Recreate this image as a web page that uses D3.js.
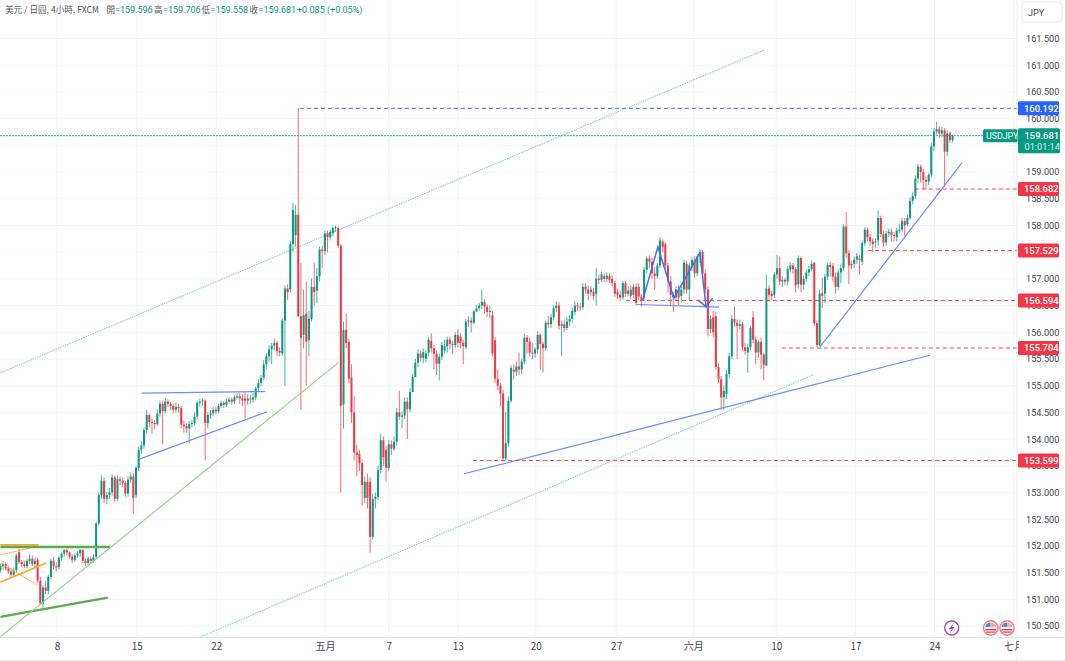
<!DOCTYPE html>
<meta charset="utf-8">
<style>
  body { margin: 0; background: #fff; }
  svg text { font-family: "Noto Sans CJK TC", Roboto, "Liberation Sans", sans-serif; }
</style>
<script src="https://d3js.org/d3.v7.min.js"></script>
<div id="divsvg"></div>
<script>

// candles, 10 per line, one line = about 27px of the picture
var opens = [
151.55,151.62,151.66,151.58,151.52,151.46,151.55,151.88,151.70,151.66,
151.62,151.72,151.76,151.66,151.74,151.35,150.92,151.22,151.16,151.42,
151.72,151.62,151.60,151.78,151.85,151.92,151.88,151.80,151.74,151.82,
151.86,151.92,151.72,151.68,151.76,151.72,151.80,152.42,152.95,153.22,
152.88,152.95,153.00,153.28,152.88,153.25,153.22,153.18,152.98,153.24,
153.30,152.95,153.46,153.80,153.88,154.17,154.45,154.32,154.30,154.28,
154.48,154.66,154.52,154.70,154.66,154.62,154.55,154.60,154.58,154.27,
154.24,154.20,154.28,154.30,154.42,154.68,154.70,154.72,154.30,154.45,
154.48,154.55,154.52,154.62,154.68,154.64,154.70,154.74,154.70,154.78,
154.80,154.76,154.76,154.72,154.76,154.74,154.78,154.95,155.05,155.15,
155.40,155.55,155.68,155.75,155.80,155.65,155.60,156.22,156.82,156.80,
157.65,157.82,158.20,156.30,155.95,156.35,155.85,156.25,156.85,156.78,
157.05,157.55,157.52,157.85,157.78,157.85,157.95,157.95,157.62,154.65,
156.05,155.82,155.15,154.50,153.75,153.72,153.55,152.90,153.20,153.20,
152.17,152.88,152.92,153.42,153.98,153.80,153.46,153.90,153.82,153.95,
154.50,154.42,154.44,154.70,154.56,154.88,155.16,155.43,155.60,155.52,
155.50,155.62,155.84,155.70,155.60,155.41,155.54,155.66,155.74,155.86,
155.78,155.76,155.95,155.92,155.80,155.72,156.20,156.22,156.18,156.39,
156.45,156.50,156.57,156.48,156.38,156.32,155.85,155.13,155.00,154.85,
153.64,153.92,154.72,155.30,155.26,155.36,155.30,155.45,155.90,155.82,
155.62,155.60,155.68,155.95,155.78,155.70,156.18,156.15,156.28,156.45,
156.50,156.12,156.15,156.08,156.20,156.25,156.38,156.50,156.48,156.47,
156.85,156.80,156.75,156.76,156.72,157.00,156.98,157.05,157.00,157.05,
157.00,156.92,156.75,156.70,156.65,156.92,156.72,156.80,156.70,156.85,
156.85,156.67,156.65,157.17,157.38,157.32,157.10,157.05,157.25,157.70,
157.65,157.25,156.95,156.70,156.65,156.80,156.68,156.80,157.28,156.80,
157.25,157.35,157.10,157.42,157.50,157.10,156.80,156.06,156.28,156.30,
155.35,155.12,154.78,154.85,155.22,155.55,156.25,156.18,156.12,156.15,
155.72,155.62,155.72,156.28,155.86,155.62,155.82,155.58,155.38,156.82,
156.72,156.70,157.08,157.20,156.95,156.98,156.95,157.18,157.25,157.18,
156.90,157.39,156.89,157.00,157.12,157.18,157.30,156.17,155.76,156.73,
156.72,157.04,157.26,157.24,157.04,156.85,157.12,157.20,157.98,157.48,
157.28,157.28,157.36,157.38,157.32,157.67,157.92,157.78,157.70,157.68,
157.72,158.14,157.84,157.68,157.85,157.88,157.82,157.78,157.90,157.92,
158.08,158.02,158.14,158.46,158.55,158.88,159.10,159.00,158.85,158.82,
158.95,159.48,159.76,159.80,159.72,159.78,159.38,159.72,159.596];

var highs = [
151.66,151.72,151.70,151.62,151.58,151.60,151.86,151.95,151.74,151.72,
151.76,151.84,151.82,151.78,151.78,151.42,151.26,151.34,151.46,151.76,
151.80,151.70,151.80,151.88,151.94,151.95,151.90,151.84,151.86,151.90,
151.95,151.94,151.76,151.80,151.80,151.84,152.45,153.00,153.32,153.28,
153.02,153.08,153.34,153.32,153.32,153.30,153.28,153.22,153.30,153.38,
153.36,153.50,153.86,153.96,154.22,154.55,154.48,154.38,154.36,154.55,
154.72,154.72,154.77,154.74,154.70,154.66,154.68,154.66,154.62,154.34,
154.30,154.34,154.36,154.50,154.72,154.76,154.76,154.74,154.50,154.55,
154.60,154.60,154.66,154.72,154.72,154.76,154.78,154.78,154.82,154.86,
154.86,154.84,154.88,154.84,154.82,154.86,154.98,155.12,155.20,155.48,
155.60,155.75,155.80,155.88,155.84,155.72,156.26,156.88,156.90,157.70,
158.42,158.38,160.20,157.30,156.80,156.95,156.40,157.00,157.30,157.20,
157.60,157.62,157.90,157.90,157.92,157.98,158.00,157.98,157.65,156.20,
156.35,155.88,155.40,154.80,153.90,153.80,153.62,153.30,153.35,153.28,
152.98,153.00,153.50,154.10,154.05,153.88,153.98,153.98,154.05,154.58,
154.90,154.52,154.78,154.78,154.95,155.22,155.50,155.68,155.66,155.70,
155.66,155.92,155.98,155.76,155.66,155.60,155.82,155.86,155.92,155.92,
155.84,156.00,156.05,155.98,155.86,156.25,156.30,156.28,156.42,156.50,
156.55,156.80,156.62,156.52,156.50,156.40,155.90,155.30,155.05,154.92,
154.50,154.80,155.38,155.40,155.45,155.62,155.50,155.98,155.95,155.90,
155.80,155.72,156.02,155.98,155.82,156.22,156.30,156.34,156.50,156.58,
156.56,156.22,156.24,156.28,156.32,156.46,156.58,156.55,156.54,156.92,
156.92,156.88,156.86,156.82,157.20,157.08,157.14,157.10,157.12,157.10,
157.06,156.96,156.82,156.78,156.96,156.96,156.86,156.88,156.90,156.92,
156.92,156.72,157.22,157.42,157.44,157.40,157.22,157.30,157.78,157.74,
157.68,157.30,157.05,156.76,156.86,156.88,156.85,157.36,157.34,157.30,
157.40,157.42,157.46,157.56,157.54,157.18,156.86,156.32,156.40,156.38,
155.42,155.18,155.00,155.30,155.62,156.32,156.48,156.24,156.24,156.20,
155.80,155.78,156.12,156.40,155.92,155.86,155.90,155.62,157.08,156.88,
156.78,157.12,157.45,157.42,157.05,157.02,157.24,157.30,157.30,157.22,
157.44,157.42,157.06,157.18,157.24,157.34,157.32,156.22,156.80,157.02,
157.10,157.30,157.32,157.30,157.12,157.18,157.28,158.02,158.25,157.54,
157.34,157.42,157.48,157.44,157.72,157.96,157.96,157.84,157.76,157.76,
158.28,158.18,157.90,157.90,157.94,157.94,157.88,157.96,158.02,158.14,
158.14,158.20,158.52,158.62,158.94,159.16,159.14,159.06,158.92,158.98,
159.55,159.82,159.94,159.86,159.84,159.82,159.78,159.76,159.706];

var lows = [
151.50,151.56,151.54,151.48,151.42,151.42,151.50,151.66,151.60,151.58,
151.58,151.66,151.62,151.60,151.30,150.90,150.84,151.10,151.10,151.38,
151.56,151.52,151.56,151.72,151.80,151.82,151.76,151.68,151.70,151.78,
151.80,151.68,151.62,151.64,151.66,151.68,151.76,152.38,152.88,152.80,
152.78,152.88,152.94,152.82,152.84,153.14,153.10,152.92,152.92,153.18,
152.60,152.90,153.40,153.72,153.82,154.10,154.22,154.10,154.18,154.24,
154.42,153.90,154.48,154.60,154.54,154.48,154.50,154.50,154.20,154.12,
154.12,153.92,154.22,154.26,154.36,154.60,154.62,153.60,154.20,154.38,
154.42,154.46,154.48,154.58,154.58,154.60,154.66,154.64,154.66,154.74,
154.66,154.62,154.38,154.64,154.66,154.68,154.72,154.90,155.00,155.10,
155.30,155.45,155.40,155.66,155.56,155.55,155.56,155.00,156.60,156.75,
157.50,157.60,156.28,154.55,155.70,155.00,155.55,156.20,156.50,156.55,
156.95,157.20,157.45,157.50,157.72,157.80,157.88,157.58,153.00,154.20,
155.70,155.05,154.30,153.60,153.30,153.40,152.75,152.80,152.70,151.87,
152.12,152.70,152.86,153.36,153.50,153.20,153.40,153.70,153.78,153.88,
154.36,154.20,154.38,154.00,154.50,155.10,155.30,155.35,155.44,155.42,
155.44,155.56,155.62,155.30,155.20,155.10,155.48,155.60,155.62,155.68,
155.60,155.70,155.72,155.70,155.40,155.68,156.10,156.00,156.14,156.38,
156.40,156.44,156.36,156.28,156.26,155.55,155.05,154.92,154.62,153.58,
153.60,153.86,154.68,155.12,155.18,155.20,155.22,155.40,155.60,155.55,
155.50,155.52,155.60,155.30,155.25,155.65,156.08,156.08,156.22,156.38,
156.05,155.55,156.00,156.04,156.12,156.18,156.32,156.40,156.40,156.42,
156.72,156.60,156.68,156.60,156.50,156.90,156.94,156.94,156.94,156.92,
156.86,156.66,156.62,156.58,156.60,156.66,156.68,156.62,156.64,156.50,
156.60,156.48,156.58,157.10,157.20,157.00,156.80,157.00,157.20,157.50,
157.20,156.75,156.50,156.38,156.60,156.50,156.55,156.72,156.72,156.60,
157.15,157.02,157.05,157.30,157.02,156.72,155.92,155.98,155.90,155.30,
155.05,154.55,154.55,154.75,155.15,155.50,156.10,155.50,156.05,155.65,
155.58,155.24,155.66,155.80,155.40,155.52,155.30,155.10,155.36,156.60,
156.60,156.64,157.00,156.88,156.85,156.88,156.88,157.12,157.10,156.75,
156.82,156.75,156.80,156.95,157.05,157.14,156.12,155.72,155.74,156.45,
156.55,156.98,157.04,156.95,156.72,156.78,156.92,157.15,157.40,156.90,
157.18,157.20,157.28,157.08,157.26,157.62,157.70,157.62,157.50,157.58,
157.62,157.78,157.60,157.62,157.78,157.70,157.70,157.70,157.85,157.88,
157.80,157.98,158.10,158.40,158.50,158.80,158.80,158.68,158.68,158.76,
158.90,159.40,159.70,159.64,159.66,158.72,159.30,159.54,159.558];

var closes = [
151.62,151.66,151.58,151.52,151.46,151.55,151.82,151.70,151.66,151.62,
151.72,151.76,151.66,151.72,151.35,150.92,151.22,151.16,151.42,151.72,
151.62,151.60,151.78,151.85,151.92,151.88,151.80,151.74,151.82,151.86,
151.92,151.72,151.68,151.76,151.72,151.78,152.42,152.95,153.22,152.88,
152.95,153.00,153.28,152.88,153.25,153.22,153.18,152.98,153.24,153.30,
152.90,153.46,153.80,153.88,154.17,154.45,154.32,154.30,154.28,154.48,
154.66,154.52,154.70,154.66,154.62,154.55,154.60,154.58,154.27,154.24,
154.20,154.28,154.30,154.42,154.68,154.70,154.72,154.30,154.45,154.48,
154.55,154.52,154.62,154.68,154.64,154.70,154.74,154.70,154.78,154.80,
154.76,154.72,154.72,154.76,154.74,154.78,154.95,155.05,155.15,155.40,
155.55,155.68,155.75,155.80,155.65,155.62,156.22,156.82,156.75,157.65,
158.29,158.20,156.30,155.90,156.32,155.82,156.25,156.85,156.75,157.05,
157.55,157.52,157.85,157.78,157.88,157.95,157.97,157.62,154.62,156.04,
155.80,155.13,154.50,153.75,153.70,153.55,153.14,153.20,152.90,152.17,
152.88,152.92,153.42,153.98,153.66,153.46,153.90,153.82,153.95,154.50,
154.42,154.44,154.70,154.56,154.88,155.16,155.43,155.60,155.52,155.63,
155.60,155.86,155.70,155.60,155.41,155.54,155.76,155.74,155.86,155.78,
155.76,155.95,155.80,155.80,155.74,156.20,156.22,156.18,156.39,156.45,
156.50,156.57,156.48,156.38,156.40,155.60,155.13,155.00,154.85,153.64,
153.92,154.72,155.33,155.26,155.36,155.30,155.45,155.90,155.82,155.62,
155.60,155.68,155.95,155.78,155.70,156.18,156.15,156.28,156.45,156.50,
156.12,156.15,156.08,156.20,156.25,156.40,156.50,156.48,156.47,156.85,
156.80,156.72,156.80,156.68,157.00,156.98,157.08,157.00,157.06,156.98,
156.92,156.72,156.70,156.65,156.92,156.72,156.78,156.68,156.85,156.55,
156.67,156.60,157.17,157.38,157.32,157.10,157.05,157.25,157.72,157.60,
157.25,156.95,156.70,156.65,156.80,156.65,156.80,157.30,156.80,157.25,
157.35,157.10,157.42,157.50,157.10,156.80,156.06,156.25,156.00,155.35,
155.12,154.78,154.90,155.22,155.55,156.25,156.18,156.12,156.15,155.72,
155.65,155.72,156.08,155.86,155.62,155.82,155.58,155.38,156.82,156.70,
156.68,157.08,157.20,156.95,156.98,156.95,157.18,157.25,157.18,156.88,
157.39,156.89,157.00,157.12,157.18,157.28,156.17,155.76,156.73,156.68,
157.04,157.26,157.22,157.04,156.85,157.12,157.20,157.98,157.48,157.25,
157.25,157.36,157.42,157.35,157.67,157.92,157.78,157.70,157.65,157.70,
158.14,157.84,157.68,157.85,157.88,157.82,157.80,157.90,157.92,158.08,
158.00,158.14,158.46,158.55,158.88,159.10,159.00,158.85,158.82,158.95,
159.48,159.76,159.80,159.72,159.78,159.38,159.72,159.60,159.681];

// time axis: label and the bar it sits on
var timeLabels = ["8", "15", "22", "五月", "7", "13", "20", "27", "六月", "10", "17", "24", "七月"];
var timeBars = [21.3, 51.3, 81.2, 122, 146, 172, 201.3, 231.5, 260.5, 291.7, 321.5, 351.2, 381];

var priceTicks = d3.range(150.5, 161.75, 0.5);

// horizontal levels: price and the bar they start on
var levelPrices = [160.192, 158.682, 157.529, 156.594, 155.704, 153.599];
var levelStarts = [112.6, 343.8, 326.2, 235.2, 293.8, 177.7];
var levelColors = ["#2962ff", "#f23645", "#f23645", "#f23645", "#f23645", "#f23645"];

var lastPrice = 159.681;

// hand drawn trend lines as [bar, price] pairs
var channelLines = [
  [[0, 155.24], [287.5, 161.29]],
  [[75, 150.29], [305.5, 155.2]]
];
var blueLines = [
  [[53.1, 154.86], [99.5, 154.89]],
  [[52.5, 153.63], [100.2, 154.51]],
  [[174.3, 153.35], [349.5, 155.57]],
  [[308.1, 155.72], [361.5, 159.17]],
  [[239.3, 156.52], [270.2, 156.47]]
];
var zigzag = [[241.5, 156.6], [247.2, 157.6], [253.2, 156.64], [263, 157.49], [265.3, 156.48]];
var arrowHead = [[262.3, 156.6], [265.3, 156.48], [267.8, 156.64]];
var greenThin = [[0, 150.3], [127.3, 155.44]];
var greenThick = [
  [[0, 151.98], [41.2, 151.98]],
  [[0, 150.67], [40.4, 151.03]]
];
var orangeThick = [
  [[0, 152.02], [14.3, 152.02]],
  [[0, 151.32], [17.2, 151.68]]
];
var orangeThin = [
  [[0, 151.83], [11.2, 151.96]],
  [[0, 151.68], [13.8, 151.27]]
];

var width = 1065, height = 661, plotRight = 1017, plotBottom = 637;
var upColor = "#089981", downColor = "#f23645", gridColor = "#f2f3f6";
var numFont = "Roboto, sans-serif";

var svg = d3.select("#divsvg").append("svg")
  .attr("width", width)
  .attr("height", height)
  .style("display", "block");

var x = d3.scaleLinear().domain([0, 358]).range([0.38, 952.6]);
var y = d3.scaleLinear().domain([150.5, 161.5]).range([626, 38.5]);

var defs = svg.append("defs");
defs.append("clipPath").attr("id", "plot")
  .append("rect").attr("width", plotRight).attr("height", plotBottom);
// the last time label is cut where the price axis begins
defs.append("clipPath").attr("id", "timeclip")
  .append("rect").attr("width", plotRight + 2).attr("height", 30);

// grid
var grid = svg.append("g");
grid.selectAll(".h").data(priceTicks).enter().append("line")
  .attr("x1", 0).attr("x2", plotRight)
  .attr("y1", function(d) { return y(d); }).attr("y2", function(d) { return y(d); })
  .attr("stroke", gridColor);
grid.selectAll(".v").data(timeBars).enter().append("line")
  .attr("x1", function(d) { return x(d); }).attr("x2", function(d) { return x(d); })
  .attr("y1", 0).attr("y2", plotBottom)
  .attr("stroke", gridColor);

var plot = svg.append("g").attr("clip-path", "url(#plot)");
var lineGen = d3.line().x(function(d) { return x(d[0]); }).y(function(d) { return y(d[1]); });

function drawLines(data, color, w, dash) {
  plot.append("g").selectAll("path").data(data).enter().append("path")
    .attr("d", lineGen)
    .attr("fill", "none")
    .attr("stroke", color)
    .attr("stroke-width", w)
    .attr("stroke-dasharray", dash || null);
}

// channel lines and last price sit under the candles
drawLines(channelLines, "#6fc9b6", 1, "1.5 1");
plot.append("line")
  .attr("x1", 0).attr("x2", plotRight)
  .attr("y1", y(lastPrice)).attr("y2", y(lastPrice))
  .attr("stroke", "#4fbfa8").attr("stroke-width", 1.2).attr("stroke-dasharray", "2 1");

// candles
var bars = d3.range(closes.length);
plot.append("g").selectAll("line").data(bars).enter().append("line")
  .attr("x1", function(i) { return x(i); }).attr("x2", function(i) { return x(i); })
  .attr("y1", function(i) { return y(highs[i]); }).attr("y2", function(i) { return y(lows[i]); })
  .attr("stroke", function(i) { return closes[i] >= opens[i] ? upColor : downColor; })
  .attr("stroke-width", 1)
  .attr("stroke-opacity", 0.75);
plot.append("g").selectAll("rect").data(bars).enter().append("rect")
  .attr("x", function(i) { return x(i) - 1; })
  .attr("width", 2)
  .attr("y", function(i) { return y(Math.max(opens[i], closes[i])); })
  .attr("height", function(i) { return Math.max(0.8, Math.abs(y(opens[i]) - y(closes[i]))); })
  .attr("fill", function(i) { return closes[i] >= opens[i] ? upColor : downColor; });

// drawings on top
drawLines(orangeThin, "#ffb74d", 1);
drawLines(orangeThick, "#ffa726", 1.7);
drawLines(greenThick, "#5aad4e", 2.4);
drawLines([greenThin], "#93d08a", 1.1);
drawLines(blueLines, "#6a8cff", 1.2);
drawLines([zigzag], "#3f6df5", 1.5);
drawLines([arrowHead], "#3f6df5", 1.5);

// dashed levels
plot.append("g").selectAll("line").data(levelPrices).enter().append("line")
  .attr("x1", function(d, i) { return x(levelStarts[i]); })
  .attr("x2", plotRight)
  .attr("y1", function(d) { return y(d); }).attr("y2", function(d) { return y(d); })
  .attr("stroke", function(d, i) { return levelColors[i]; })
  .attr("stroke-width", 0.9)
  .attr("stroke-dasharray", "4 3");

// axis frames
svg.append("line").attr("x1", plotRight).attr("x2", plotRight).attr("y1", 0).attr("y2", height).attr("stroke", "#eceef3");
svg.append("line").attr("x1", 0).attr("x2", width).attr("y1", plotBottom + 0.5).attr("y2", plotBottom + 0.5).attr("stroke", "#e0e3eb");
svg.append("line").attr("x1", 0).attr("x2", width).attr("y1", 660).attr("y2", 660).attr("stroke", "#e8eaf0");

// price axis
var priceAxis = svg.append("g")
  .attr("transform", "translate(" + plotRight + ",0)")
  .call(d3.axisRight(y).tickValues(priceTicks).tickSize(0).tickPadding(9).tickFormat(d3.format(".3f")));
priceAxis.select(".domain").remove();
priceAxis.selectAll("text").attr("font-size", 9.2).attr("fill", "#434651")
  .style("font-family", numFont);

// time axis
var timeAxis = svg.append("g")
  .attr("transform", "translate(0," + plotBottom + ")")
  .attr("clip-path", "url(#timeclip)")
  .call(d3.axisBottom(x).tickValues(timeBars).tickSize(0).tickPadding(6)
    .tickFormat(function(d, i) { return timeLabels[i]; }));
timeAxis.select(".domain").remove();
timeAxis.selectAll("text").attr("font-size", 10).attr("fill", "#434651");

// level price tags
var tags = svg.append("g").selectAll("g").data(levelPrices).enter().append("g")
  .attr("transform", function(d) { return "translate(1018," + y(d) + ")"; });
tags.append("rect")
  .attr("y", -7).attr("width", 41).attr("height", 14).attr("rx", 1.5)
  .attr("fill", function(d, i) { return levelColors[i]; });
tags.append("text")
  .attr("x", 6).attr("y", 3.4)
  .attr("font-size", 9.4).attr("fill", "#fff")
  .style("font-family", numFont).style("font-weight", 500)
  .text(function(d) { return d3.format(".3f")(d); });

// last price tag
var lastY = y(lastPrice);
svg.append("rect").attr("x", 983).attr("y", lastY - 6.5).attr("width", 34.5).attr("height", 13).attr("rx", 1.5).attr("fill", upColor);
svg.append("text").attr("x", 986).attr("y", lastY + 3.2).attr("font-size", 8.8).attr("fill", "#fff")
  .style("font-family", numFont).text("USDJPY");
svg.append("rect").attr("x", 1018).attr("y", lastY - 7.5).attr("width", 42).attr("height", 25).attr("rx", 1.5).attr("fill", upColor);
svg.append("text").attr("x", 1024.5).attr("y", lastY + 3.4).attr("font-size", 9.4).attr("fill", "#fff")
  .style("font-family", numFont).style("font-weight", 500).text("159.681");
svg.append("text").attr("x", 1024.5).attr("y", lastY + 14.4).attr("font-size", 9.2).attr("fill", "#d6f0ea")
  .style("font-family", numFont).text("01:01:14");

// currency button
svg.append("rect").attr("x", 1022).attr("y", 2).attr("width", 40).attr("height", 20).attr("rx", 3)
  .attr("fill", "#fff").attr("stroke", "#e6e8ee");
svg.append("text").attr("x", 1028).attr("y", 15.5).attr("font-size", 9).attr("fill", "#434651")
  .style("font-family", numFont).text("JPY");

// header legend
var legendLabels = ["美元 / 日圓, 4小時, FXCM", "開", "高", "低", "收"];
var legendLabelX = [5, 106.5, 154, 201.5, 249.5];
var legendValues = ["=159.596", "=159.706", "=159.558", "=159.681", "+0.085 (+0.05%)"];
var legendValueX = [115, 163, 210.5, 258.5, 297];

svg.append("g").selectAll("text").data(legendLabels).enter().append("text")
  .attr("x", function(d, i) { return legendLabelX[i]; })
  .attr("y", 13)
  .attr("font-size", 8.6)
  .attr("fill", "#555")
  .text(function(d) { return d; });
svg.append("g").selectAll("text").data(legendValues).enter().append("text")
  .attr("x", function(d, i) { return legendValueX[i]; })
  .attr("y", 13)
  .attr("font-size", 9)
  .attr("fill", upColor)
  .style("font-family", numFont)
  .text(function(d) { return d; });

// event icons near the bottom
var iconRow = 628;
svg.append("circle").attr("cx", 951.7).attr("cy", iconRow).attr("r", 7).attr("fill", "#fff")
  .attr("stroke", "#ab47bc").attr("stroke-width", 1.4);
svg.append("path").attr("d", "M953.5 623 L949 629 L951.7 629 L950 633 L954.5 627 L951.8 627 Z").attr("fill", "#ab47bc");
[990.7, 1007].forEach(function(cx) {
  var g = svg.append("g").attr("transform", "translate(" + cx + "," + iconRow + ")");
  g.append("circle").attr("r", 7.2).attr("fill", "#fff").attr("stroke", "#f6787f").attr("stroke-width", 1.4);
  g.append("path").attr("d", "M-5.6 -1 A5.6 5.6 0 0 1 0 -5.6 L0 -1 Z").attr("fill", "#4a90e2");
  g.append("path").attr("d", "M0 -5.6 A5.6 5.6 0 0 1 5.6 -1 L0 -1 Z").attr("fill", "#f7a8ab");
  g.append("rect").attr("x", -5.5).attr("y", 1).attr("width", 11).attr("height", 1.4).attr("fill", "#f23645");
  g.append("rect").attr("x", -4.5).attr("y", 3.5).attr("width", 9).attr("height", 1.2).attr("fill", "#f23645");
});

</script>
